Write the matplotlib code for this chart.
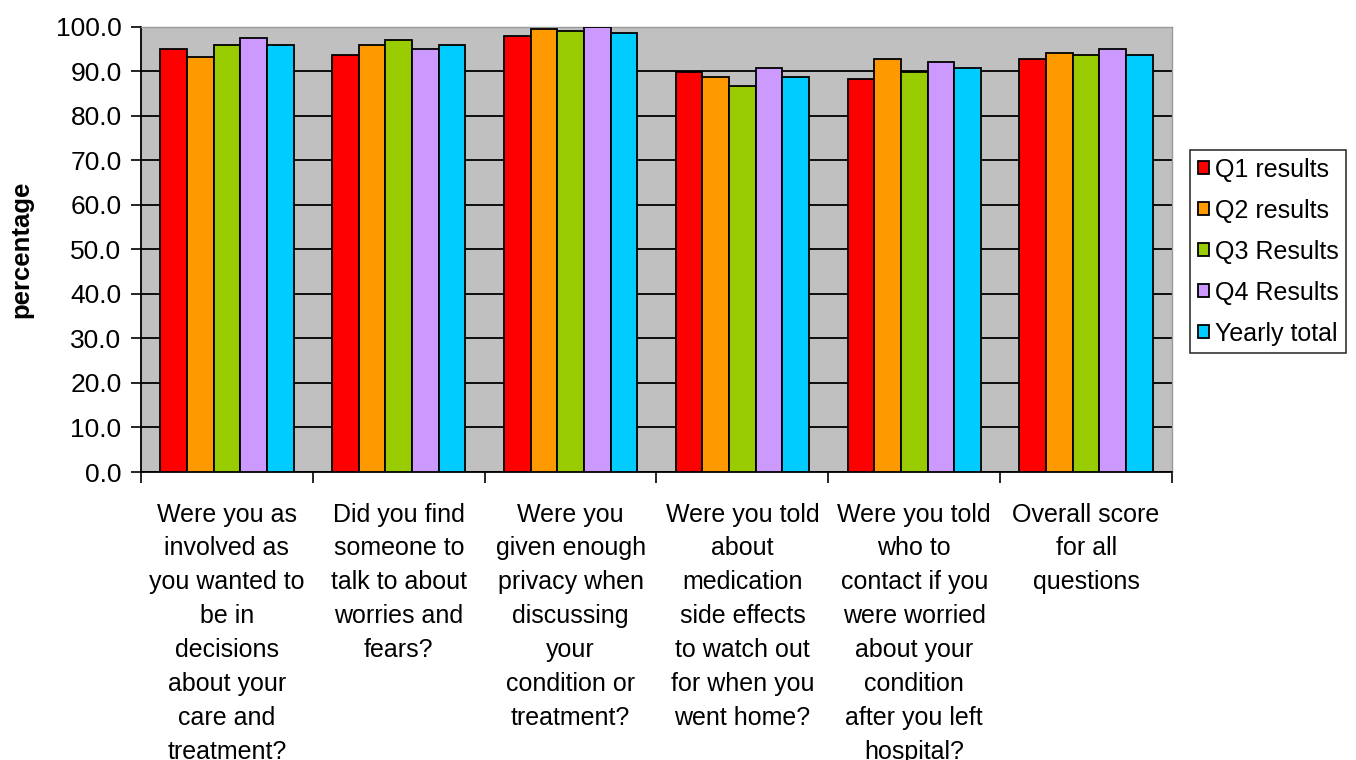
import matplotlib
matplotlib.use("Agg")
import matplotlib.pyplot as plt
import numpy as np

# Survey questions (wrapped as they appear under the axis)
questions = [
    "Were you as\ninvolved as\nyou wanted to\nbe in\ndecisions\nabout your\ncare and\ntreatment?",
    "Did you find\nsomeone to\ntalk to about\nworries and\nfears?",
    "Were you\ngiven enough\nprivacy when\ndiscussing\nyour\ncondition or\ntreatment?",
    "Were you told\nabout\nmedication\nside effects\nto watch out\nfor when you\nwent home?",
    "Were you told\nwho to\ncontact if you\nwere worried\nabout your\ncondition\nafter you left\nhospital?",
    "Overall score\nfor all\nquestions",
]

series_names = ["Q1 results", "Q2 results", "Q3 Results", "Q4 Results", "Yearly total"]
q1 = [95.0, 93.6, 98.0, 89.9, 88.3, 92.7]
q2 = [93.1, 95.9, 99.5, 88.7, 92.7, 94.0]
q3 = [95.9, 97.0, 99.0, 86.7, 89.9, 93.6]
q4 = [97.5, 95.0, 99.9, 90.7, 92.0, 95.0]
yearly = [95.9, 95.9, 98.6, 88.7, 90.7, 93.6]
series = [q1, q2, q3, q4, yearly]
colors = ["#FF0000", "#FF9900", "#99CC00", "#CC99FF", "#00CCFF"]

plt.rcParams['font.family'] = ['Liberation Sans', 'DejaVu Sans']

fig = plt.figure(figsize=(13.56, 7.6), dpi=100)
ax = fig.add_axes([141 / 1356, 1 - 472 / 760, (1172 - 141) / 1356, (472 - 26.7) / 760])
ax.set_facecolor("#C0C0C0")

x = np.arange(len(questions))
w = 0.155
for i, (vals, name, c) in enumerate(zip(series, series_names, colors)):
    ax.bar(x + (i - 2) * w, vals, width=w, color=c, edgecolor="black",
           linewidth=1.3, label=name, zorder=3)

ax.set_xlim(-0.5, len(questions) - 0.5)
ax.set_ylim(0, 100)
ax.set_yticks(np.arange(0, 101, 10))
ax.set_yticklabels([f"{v:.1f}" for v in np.arange(0, 101, 10)], fontsize=19)
ax.yaxis.grid(True, color="black", linewidth=1.3, zorder=1)
ax.set_axisbelow(True)

# boundaries get tick marks, centres get the question text
ax.set_xticks(np.arange(-0.5, len(questions), 1.0))
ax.set_xticklabels([])
ax.set_xticks(x, minor=True)
ax.set_xticklabels(questions, minor=True, fontsize=18, linespacing=1.52, va="top")
ax.tick_params(axis="x", which="major", length=8, width=1.2, direction="out")
ax.tick_params(axis="x", which="minor", length=0, pad=22)
ax.tick_params(axis="y", length=7, width=1.2, pad=7)

for s in ["left", "bottom"]:
    ax.spines[s].set_color("black")
    ax.spines[s].set_linewidth(1.3)
for s in ["top", "right"]:
    ax.spines[s].set_color("#999999")
    ax.spines[s].set_linewidth(1.0)

ax.set_ylabel("percentage", fontsize=18.5, fontweight="bold")
ax.yaxis.set_label_coords(-0.104, 0.5)

leg = ax.legend(loc="upper left", bbox_to_anchor=(1.0175, 0.723), fontsize=18,
                frameon=True, fancybox=False, edgecolor="black",
                handlelength=0.45, handleheight=0.45, handletextpad=0.25,
                labelspacing=0.68, borderpad=0.3, borderaxespad=0)
leg.get_frame().set_linewidth(1.2)

fig.savefig("out.png", dpi=100)
